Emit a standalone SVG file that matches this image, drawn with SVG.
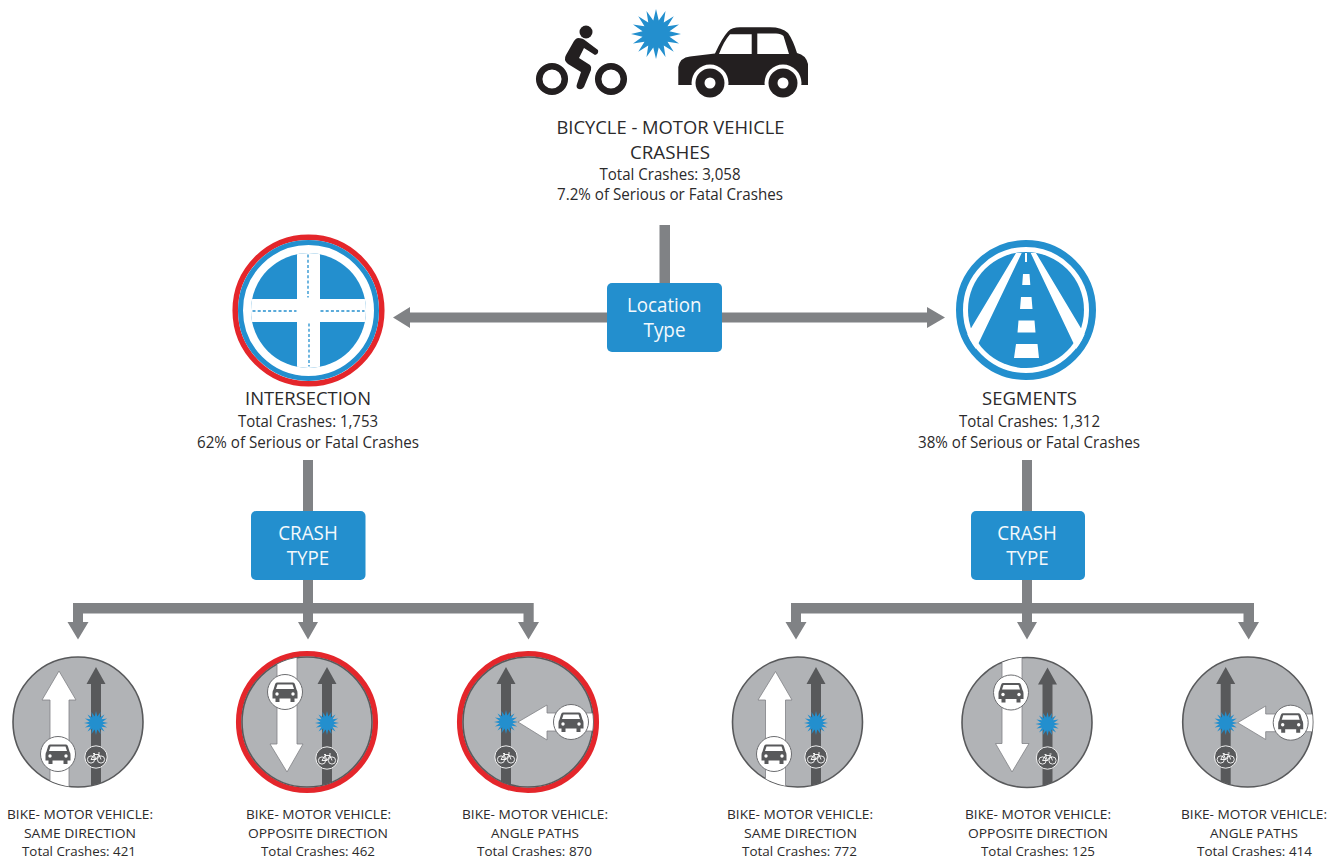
<svg xmlns="http://www.w3.org/2000/svg" width="1339" height="860" viewBox="0 0 1339 860">
<style>
text{font-family:"Open Sans","Noto Sans","Liberation Sans",sans-serif;fill:#2b2a2b;text-anchor:middle}
.h{font-size:18.6px}.b{font-size:15.6px}.s{font-size:13.3px}
.w{font-size:19.5px;fill:#f4f9fc}
.box{fill:#238fce}
.conn{fill:#808285;stroke:none}
.disc{fill:#b1b3b6;stroke:#58595b;stroke-width:1.6}
.red{fill:none;stroke:#e4262b;stroke-width:5.5}
.road{fill:#fff;stroke:#808285;stroke-width:.8}
.dark{fill:#58595b}
.star{fill:#238fce}
.dash{fill:none;stroke:#238fce;stroke-width:1.3;stroke-dasharray:3 2.2}
.blk{fill:#231f20}
</style>
<defs>
<clipPath id="c65"><circle r="65"/></clipPath>
<clipPath id="c57"><circle r="57.5"/></clipPath>
<clipPath id="c63"><circle r="63.5"/></clipPath>
<polygon id="star" class="star" points="100,0 54,11 92,38 46,31 71,71 31,46 38,92 11,54 0,100 -11,54 -38,92 -31,46 -71,71 -46,31 -92,38 -54,11 -100,0 -54,-11 -92,-38 -46,-31 -71,-71 -31,-46 -38,-92 -11,-54 0,-100 11,-54 38,-92 31,-46 71,-71 46,-31 92,-38 54,-11"/>
<path id="bikeArrow" class="dark" d="M-5,70V-38H-9.5L0,-55L9.5,-38H5V70Z"/>
<g id="carIcon">
<circle r="17.5" fill="#fff" stroke="#6d6e71" stroke-width="1"/>
<path class="dark" d="M-8,-9.5H8Q9.5,-9.5 10,-7.5L11.5,-2.5Q12.5,-1.500 12.500,1V6.500H9.500V10H5.500V6.500H-5.500V10H-9.500V6.500H-12.500V1Q-12.500,-1.500 -11.500,-2.500L-10,-7.500Q-9.500,-9.500 -8,-9.500Z"/>
<path fill="#fff" d="M-7.500,-7.500H7.500L9,-3H-9Z"/>
<circle cx="-8" cy="2" r="1.700" fill="#fff"/><circle cx="8" cy="2" r="1.700" fill="#fff"/>
</g>
<g id="bikeIcon">
<circle r="11.200" fill="#58595b" stroke="#fff" stroke-width=".9"/>
<g fill="none" stroke="#fff" stroke-width=".9">
<circle cx="-5" cy="2.500" r="3.600"/><circle cx="5" cy="2.500" r="3.600"/>
<path d="M-5,2.500L-2,-2.500H3L5,2.500M-2,-2.500L0,2.500H-5M3,-2.500L0,2.500M-3,-3.500H-1M2,-4H4"/>
</g>
</g>
</defs>

<g id="connectors">
<rect class="conn" x="659.500" y="225" width="10.500" height="60"/>
<path class="conn" d="M393,317.500L410,307V312.500H610V322.500H410V328Z"/>
<path class="conn" d="M945,317.500L927,307V312.500H718V322.500H927V328Z"/>
<path class="conn" d="M303,460H313V603H533.700V622H539L528.500,639.500L518,622H523.500V613.500H313V622H318L308,639.500L298,622H303V613.500H83V622H88.500L78,639.500L67.500,622H73V603H303Z"/>
<path class="conn" d="M1022,460H1032V603H1254V622H1259L1248.700,639.500L1238,622H1243.500V613.500H1032V622H1037L1027,639.500L1017,622H1022V613.500H801V622H806.500L796,639.500L785.500,622H791V603H1022Z"/>
</g>

<g id="n-title">
<g id="icon-bicycle" class="blk">
<circle cx="552" cy="79" r="12.800" fill="none" stroke="#231f20" stroke-width="6.500"/>
<circle cx="611" cy="79" r="12.800" fill="none" stroke="#231f20" stroke-width="6.500"/>
<circle cx="586" cy="32" r="6.500"/>
<path d="M578,38Q583,38 586,41L598,50Q599,54 595,55L584,48L579,58L590,65Q592,67 591,70L584,87Q581,91 577,88Q576,86 577,84L581,72L568,64Q563,60 566,55L574,41Q576,38 578,38Z"/>
</g>
<use href="#star" transform="translate(656,34) scale(.25)"/>
<g id="icon-car">
<path class="blk" d="M678.300,85V67Q680,57.500 690,56.500L715,53.500Q722,38 728,31.500Q732,27.300 740,27.300H770Q782,27.300 788,33Q793,40 797,53Q806,55 808,64V85Z"/>
<path fill="#fff" d="M730,34.300H751.700V54H719Q724,41 730,34.300ZM757.300,33.500H776Q781,33.500 783.500,36L789,54H757.300Z"/>
<circle cx="710" cy="83" r="18.500" fill="#fff"/><circle cx="783" cy="83" r="18.500" fill="#fff"/>
<rect x="685" y="85" width="125" height="17" fill="#fff"/>
<circle class="blk" cx="710" cy="83" r="14.500"/><circle class="blk" cx="783" cy="83" r="14.500"/>
<circle cx="710" cy="83" r="5.500" fill="#fff"/><circle cx="783" cy="83" r="5.500" fill="#fff"/>
</g>
<text class="h" x="670.500" y="134" textLength="228" lengthAdjust="spacingAndGlyphs">BICYCLE - MOTOR VEHICLE</text>
<text class="h" x="670" y="159" textLength="80" lengthAdjust="spacingAndGlyphs">CRASHES</text>
<text class="b" x="670" y="180" textLength="141" lengthAdjust="spacingAndGlyphs">Total Crashes: 3,058</text>
<text class="b" x="670" y="200" textLength="226" lengthAdjust="spacingAndGlyphs">7.2% of Serious or Fatal Crashes</text>
</g>

<g id="n-location">
<rect class="box" x="607" y="283" width="115" height="69" rx="5"/>
<text class="w" x="664.300" y="312" textLength="74.500" lengthAdjust="spacingAndGlyphs">Location</text>
<text class="w" x="664.500" y="337" textLength="42" lengthAdjust="spacingAndGlyphs">Type</text>
</g>

<g id="n-intersection">
<circle cx="308.500" cy="310.500" r="73.300" class="red"/>
<circle cx="308.500" cy="310.500" r="68" fill="#fff" stroke="#238fce" stroke-width="5"/>
<g transform="translate(308.500,310.500)">
<circle r="57.500" fill="#238fce"/>
<g clip-path="url(#c57)"><rect x="-11.500" y="-60" width="23" height="120" fill="#fff"/><rect x="-60" y="-11.500" width="120" height="23" fill="#fff"/></g>
<path class="dash" d="M-.5,-56V-13M.5,13V56M-56,.5H-12M12,.5H56"/>
</g>
<text class="h" x="308" y="405" textLength="126" lengthAdjust="spacingAndGlyphs">INTERSECTION</text>
<text class="b" x="308" y="427" textLength="140" lengthAdjust="spacingAndGlyphs">Total Crashes: 1,753</text>
<text class="b" x="308" y="448" textLength="222" lengthAdjust="spacingAndGlyphs">62% of Serious or Fatal Crashes</text>
</g>

<g id="n-segments">
<circle cx="1026" cy="310" r="66.500" fill="#fff" stroke="#238fce" stroke-width="7"/>
<g transform="translate(1026,310)">
<circle r="58" fill="#238fce"/>
<g clip-path="url(#c63)"><path fill="#fff" d="M-10,-57L-62,30L-55,49L-4.300,-57ZM10,-57L62,30L55,49L4.700,-57Z"/></g>
<path fill="#fff" d="M-1,-57H1V-48H-1ZM-3,-36H3.500L4.300,-25H-3.800ZM-5,-13H5.500L6.500,-1H-6ZM-7.500,10.500H8.500L9.500,22.500H-8.500ZM-10,34H11.500L13,48H-12Z"/>
</g>
<text class="h" x="1029.500" y="405" textLength="95" lengthAdjust="spacingAndGlyphs">SEGMENTS</text>
<text class="b" x="1029.500" y="427" textLength="141" lengthAdjust="spacingAndGlyphs">Total Crashes: 1,312</text>
<text class="b" x="1029" y="448" textLength="222" lengthAdjust="spacingAndGlyphs">38% of Serious or Fatal Crashes</text>
</g>

<g id="n-crash-type-left">
<rect class="box" x="251" y="511" width="114.500" height="69" rx="5"/>
<text class="w" x="308" y="540" textLength="59.500" lengthAdjust="spacingAndGlyphs">CRASH</text>
<text class="w" x="308" y="565" textLength="42.500" lengthAdjust="spacingAndGlyphs">TYPE</text>
</g>
<g id="n-crash-type-right">
<rect class="box" x="971" y="511" width="114" height="69" rx="5"/>
<text class="w" x="1027" y="540" textLength="59.500" lengthAdjust="spacingAndGlyphs">CRASH</text>
<text class="w" x="1027.500" y="565" textLength="42.500" lengthAdjust="spacingAndGlyphs">TYPE</text>
</g>

<g id="n-left-same">
<g transform="translate(78,722)">
<circle r="65" class="disc"/>
<g clip-path="url(#c65)">
<path class="road" d="M-28,70V-22H-36L-19,-51L-2,-22H-9V70Z"/>
<use href="#bikeArrow" x="18"/>
</g>
<use href="#star" transform="translate(18,1) scale(.12)"/>
<use href="#carIcon" x="-20" y="32"/>
<use href="#bikeIcon" x="18" y="35"/>
</g>
<text class="s" x="80" y="819" textLength="146" lengthAdjust="spacingAndGlyphs">BIKE- MOTOR VEHICLE:</text>
<text class="s" x="80" y="838" textLength="112" lengthAdjust="spacingAndGlyphs">SAME DIRECTION</text>
<text class="s" x="79" y="856" textLength="114" lengthAdjust="spacingAndGlyphs">Total Crashes: 421</text>
</g>

<g id="n-left-opposite">
<g transform="translate(307,722)">
<circle r="68.300" class="red"/>
<circle r="65" class="disc"/>
<g clip-path="url(#c65)">
<path class="road" d="M-30,-70V22H-37L-20,50L-4,22H-10V-70Z"/>
<use href="#bikeArrow" x="20"/>
</g>
<use href="#star" transform="translate(20,1) scale(.12)"/>
<use href="#carIcon" x="-22" y="-30"/>
<use href="#bikeIcon" x="20" y="36"/>
</g>
<text class="s" x="318.500" y="819" textLength="145" lengthAdjust="spacingAndGlyphs">BIKE- MOTOR VEHICLE:</text>
<text class="s" x="318" y="838" textLength="140" lengthAdjust="spacingAndGlyphs">OPPOSITE DIRECTION</text>
<text class="s" x="318" y="856" textLength="114" lengthAdjust="spacingAndGlyphs">Total Crashes: 462</text>
</g>

<g id="n-left-angle">
<g transform="translate(528,722)">
<circle r="68.300" class="red"/>
<circle r="65" class="disc"/>
<g clip-path="url(#c65)">
<path class="road" d="M70,-9H19V-17L-10,0L19,18V9H70Z"/>
<use href="#bikeArrow" x="-22"/>
</g>
<use href="#star" transform="translate(-22,0) scale(.12)"/>
<use href="#carIcon" x="43" y="0"/>
<use href="#bikeIcon" x="-22" y="35"/>
</g>
<text class="s" x="535" y="819" textLength="146" lengthAdjust="spacingAndGlyphs">BIKE- MOTOR VEHICLE:</text>
<text class="s" x="535" y="838" textLength="88" lengthAdjust="spacingAndGlyphs">ANGLE PATHS</text>
<text class="s" x="534.500" y="856" textLength="115" lengthAdjust="spacingAndGlyphs">Total Crashes: 870</text>
</g>

<g id="n-right-same">
<g transform="translate(797.500,722)">
<circle r="65" class="disc"/>
<g clip-path="url(#c65)">
<path class="road" d="M-32,70V-22H-39.500L-22,-50.500L-5.500,-22H-12V70Z"/>
<use href="#bikeArrow" x="18.500"/>
</g>
<use href="#star" transform="translate(18.500,1) scale(.12)"/>
<use href="#carIcon" x="-23.500" y="32"/>
<use href="#bikeIcon" x="18.500" y="35"/>
</g>
<text class="s" x="800" y="819" textLength="146" lengthAdjust="spacingAndGlyphs">BIKE- MOTOR VEHICLE:</text>
<text class="s" x="800.500" y="838" textLength="113" lengthAdjust="spacingAndGlyphs">SAME DIRECTION</text>
<text class="s" x="799.500" y="856" textLength="115" lengthAdjust="spacingAndGlyphs">Total Crashes: 772</text>
</g>

<g id="n-right-opposite">
<g transform="translate(1027,722.500)">
<circle r="65" class="disc"/>
<g clip-path="url(#c65)">
<path class="road" d="M-25,-70V21H-31.500L-15,49.500L2,21H-5V-70Z"/>
<use href="#bikeArrow" x="20.500"/>
</g>
<use href="#star" transform="translate(20.500,1.500) scale(.12)"/>
<use href="#carIcon" x="-16" y="-30"/>
<use href="#bikeIcon" x="20.500" y="35.500"/>
</g>
<text class="s" x="1038" y="819" textLength="146" lengthAdjust="spacingAndGlyphs">BIKE- MOTOR VEHICLE:</text>
<text class="s" x="1038" y="838" textLength="140" lengthAdjust="spacingAndGlyphs">OPPOSITE DIRECTION</text>
<text class="s" x="1038" y="856" textLength="114" lengthAdjust="spacingAndGlyphs">Total Crashes: 125</text>
</g>

<g id="n-right-angle">
<g transform="translate(1247.700,722)">
<circle r="65" class="disc"/>
<g clip-path="url(#c65)">
<path class="road" d="M70,-8H18V-16L-10,.7L18,17.500V9.700H70Z"/>
<use href="#bikeArrow" x="-22"/>
</g>
<use href="#star" transform="translate(-22,1) scale(.12)"/>
<use href="#carIcon" x="43" y=".7"/>
<use href="#bikeIcon" x="-22" y="35"/>
</g>
<text class="s" x="1254" y="819" textLength="146" lengthAdjust="spacingAndGlyphs">BIKE- MOTOR VEHICLE:</text>
<text class="s" x="1254" y="838" textLength="88" lengthAdjust="spacingAndGlyphs">ANGLE PATHS</text>
<text class="s" x="1254.500" y="856" textLength="115" lengthAdjust="spacingAndGlyphs">Total Crashes: 414</text>
</g>
</svg>
